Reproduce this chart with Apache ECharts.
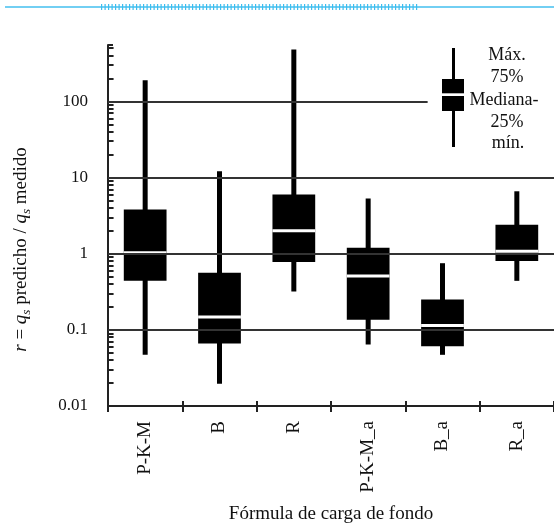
<!DOCTYPE html>
<html>
<head>
<meta charset="utf-8">
<script src="https://cdn.jsdelivr.net/npm/echarts@6/dist/echarts.min.js"></script>
<style>
  html, body { margin: 0; padding: 0; background: #fff; }
  #chart { width: 554px; height: 529px; }
</style>
</head>
<body>
<div id="chart"></div>
<script>
// fórmulas de carga de fondo
var categories = ["P-K-M", "B", "R", "P-K-M_a", "B_a", "R_a"];
// r = qs predicho / qs medido
var maxVals = [189, 12.1, 480, 5.3, 0.75, 6.6];
var q3Vals = [3.8, 0.56, 6.0, 1.2, 0.25, 2.4];
var medVals = [1.03, 0.147, 2.0, 0.51, 0.114, 1.08];
var q1Vals = [0.44, 0.066, 0.78, 0.136, 0.061, 0.8];
var minVals = [0.047, 0.0196, 0.32, 0.064, 0.047, 0.44];
var tickLabels = ["0.01", "0.1", "1", "10", "100"];
var gridVals = [10, 1, 0.1];
// marcas menores del eje log (2..9 por decada)
var minorTickVals = [
  0.02, 0.03, 0.04, 0.05, 0.06, 0.07, 0.08, 0.09,
  0.2, 0.3, 0.4, 0.5, 0.6, 0.7, 0.8, 0.9,
  2, 3, 4, 5, 6, 7, 8, 9,
  20, 30, 40, 50, 60, 70, 80, 90,
  200, 300, 400, 500
];

var FONT = "Liberation Serif";

var boxData = categories.map(function (c, i) {
  return [i + 0.5, maxVals[i], q3Vals[i], medVals[i], q1Vals[i], minVals[i]];
});

var chart = echarts.init(document.getElementById("chart"));

var option = {
  animation: false,
  grid: { left: 108, right: 0, top: 45, bottom: 123 },
  xAxis: [
    {
      type: "category",
      data: categories,
      position: "bottom",
      axisLine: { lineStyle: { color: "#222", width: 2 } },
      axisTick: { show: true, length: 6, lineStyle: { color: "#222", width: 2 } },
      axisLabel: {
        rotate: 90,
        margin: 15,
        fontFamily: FONT,
        fontSize: 19,
        color: "#111"
      },
      name: "Fórmula de carga de fondo",
      nameLocation: "middle",
      nameGap: 99,
      nameTextStyle: { fontFamily: FONT, fontSize: 19, color: "#111" },
      splitLine: { show: false }
    },
    {
      // eje oculto para dibujar las cajas
      type: "value",
      min: 0,
      max: 6,
      show: false,
      position: "bottom"
    },
    {
      // marcas hacia adentro
      type: "category",
      data: categories,
      position: "bottom",
      axisLine: { show: false },
      axisTick: { show: true, inside: true, length: 5, lineStyle: { color: "#222", width: 2 } },
      axisLabel: { show: false },
      splitLine: { show: false }
    }
  ],
  yAxis: {
    type: "log",
    logBase: 10,
    min: 0.01,
    max: 550,
    axisLine: { show: true, lineStyle: { color: "#222", width: 2 } },
    axisTick: { show: true, inside: true, length: 5, lineStyle: { color: "#222", width: 2 } },
    minorTick: { show: false },
    splitLine: { show: false },
    axisLabel: {
      margin: 20,
      fontFamily: FONT,
      fontSize: 17,
      color: "#111",
      formatter: function (v) {
        var s = String(+Number(v).toPrecision(6));
        return tickLabels.indexOf(s) >= 0 ? s : "";
      }
    },
    name: "{i|r} = {i|q}{sub|s} predicho / {i|q}{sub|s} medido",
    nameLocation: "middle",
    nameRotate: 90,
    nameGap: 75,
    nameTextStyle: {
      fontFamily: FONT,
      fontSize: 19,
      color: "#111",
      padding: [0, 48, 0, 0],
      rich: {
        i: { fontFamily: FONT, fontSize: 19, fontStyle: "italic", color: "#111", lineHeight: 24 },
        sub: { fontFamily: FONT, fontSize: 13, fontStyle: "italic", color: "#111", verticalAlign: "bottom", lineHeight: 24 }
      }
    }
  },
  graphic: [
    // linea decorativa superior
    { type: "line", shape: { x1: 5, y1: 7, x2: 554, y2: 7 }, style: { stroke: "#72cff3", lineWidth: 2 } },
    { type: "line", shape: { x1: 101, y1: 7, x2: 418, y2: 7 }, style: { stroke: "#3cbdee", lineWidth: 6, lineDash: [1.2, 2.3] } },
    // leyenda
    { type: "line", shape: { x1: 453.5, y1: 48, x2: 453.5, y2: 147 }, style: { stroke: "#000", lineWidth: 3 } },
    { type: "rect", shape: { x: 442, y: 79, width: 22, height: 32 }, style: { fill: "#000" } },
    { type: "rect", shape: { x: 442, y: 93.3, width: 22, height: 2.7 }, style: { fill: "#fff" } },
    { type: "text", x: 507, y: 55, style: { text: "Máx.", font: "18px " + FONT, fill: "#111", align: "center", verticalAlign: "middle" } },
    { type: "text", x: 507, y: 77, style: { text: "75%", font: "18px " + FONT, fill: "#111", align: "center", verticalAlign: "middle" } },
    { type: "text", x: 504, y: 100, style: { text: "Mediana-", font: "18px " + FONT, fill: "#111", align: "center", verticalAlign: "middle" } },
    { type: "text", x: 507, y: 122, style: { text: "25%", font: "18px " + FONT, fill: "#111", align: "center", verticalAlign: "middle" } },
    { type: "text", x: 508, y: 143, style: { text: "mín.", font: "18px " + FONT, fill: "#111", align: "center", verticalAlign: "middle" } }
  ],
  series: [
    {
      // lineas de la reticula
      type: "line",
      xAxisIndex: 1,
      data: [],
      z: 1,
      silent: true,
      markLine: {
        silent: true,
        symbol: "none",
        label: { show: false },
        lineStyle: { color: "#333", width: 2, type: "solid" },
        data: gridVals.map(function (v) { return { yAxis: v }; }).concat([
          [{ coord: [0, 100] }, { coord: [4.3, 100] }]
        ])
      }
    },
    {
      // marcas menores del eje y
      type: "line",
      xAxisIndex: 1,
      data: [],
      z: 2,
      silent: true,
      markLine: {
        silent: true,
        symbol: "none",
        label: { show: false },
        lineStyle: { color: "#222", width: 2, type: "solid" },
        data: minorTickVals.map(function (v) {
          return [{ coord: [0.013, v] }, { coord: [0.075, v] }];
        })
      }
    },
    {
      type: "custom",
      xAxisIndex: 1,
      z: 3,
      data: boxData,
      encode: { x: 0, y: [1, 2, 3, 4, 5] },
      renderItem: function (params, api) {
        var x = api.value(0);
        var pMax = api.coord([x, api.value(1)]);
        var pQ3 = api.coord([x, api.value(2)]);
        var pMed = api.coord([x, api.value(3)]);
        var pQ1 = api.coord([x, api.value(4)]);
        var pMin = api.coord([x, api.value(5)]);
        var bw = api.size([0.575, 0])[0];
        var ww = 5;
        var cx = pMax[0];
        return {
          type: "group",
          children: [
            { type: "rect", shape: { x: cx - ww / 2, y: pMax[1], width: ww, height: pMin[1] - pMax[1] }, style: { fill: "#000" } },
            { type: "rect", shape: { x: cx - bw / 2, y: pQ3[1], width: bw, height: pQ1[1] - pQ3[1] }, style: { fill: "#000" } },
            { type: "rect", shape: { x: cx - bw / 2, y: pMed[1] - 1.5, width: bw, height: 3 }, style: { fill: "#fff" } }
          ]
        };
      }
    }
  ]
};

chart.setOption(option);
</script>
</body>
</html>
